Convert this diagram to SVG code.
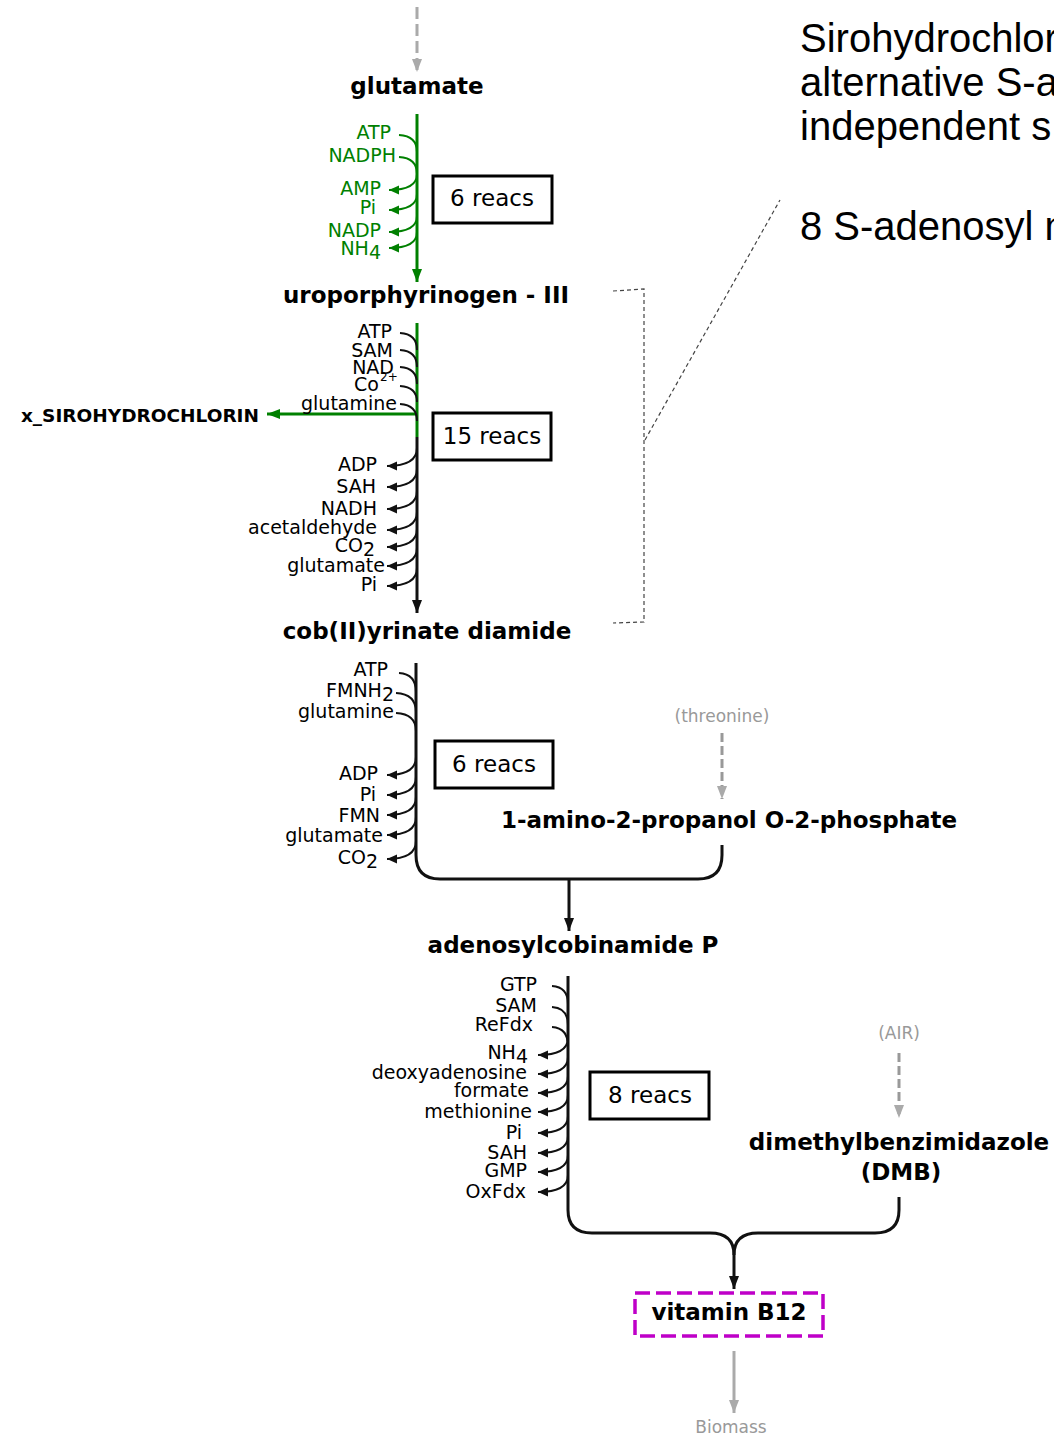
<svg xmlns="http://www.w3.org/2000/svg" width="1054" height="1436" viewBox="0 0 1054 1436">
<style>
text{font-family:"DejaVu Sans","Noto Sans",sans-serif}
.met{font-weight:bold;font-size:23px;text-anchor:middle;fill:#000}
.sm{font-size:19px;text-anchor:end;fill:#000}
.g{fill:#008000}
.gray{font-size:17px;text-anchor:middle;fill:#999}
.box{fill:#fff;stroke:#000;stroke-width:3}
.rt{font-size:23px;text-anchor:middle;fill:#000}
.note{font-family:"Liberation Sans",Arial,sans-serif;font-size:40px;fill:#000}
.ln{fill:none;stroke:#111;stroke-width:3}
.gl{fill:none;stroke:#008000;stroke-width:3}
.sd{fill:none;stroke:#111;stroke-width:2}
.sdg{fill:none;stroke:#008000;stroke-width:2}
.dsh{fill:none;stroke:#aaa;stroke-width:3;stroke-dasharray:12,5}
.br{fill:none;stroke:#444;stroke-width:1.2;stroke-dasharray:4,3}
</style>
<defs>
<marker id="aB" markerUnits="userSpaceOnUse" markerWidth="14" markerHeight="12" refX="13" refY="5" orient="auto"><path d="M0,0 L13,5 L0,10 z" fill="#111"/></marker>
<marker id="aG" markerUnits="userSpaceOnUse" markerWidth="14" markerHeight="12" refX="13" refY="5" orient="auto"><path d="M0,0 L13,5 L0,10 z" fill="#008000"/></marker>
<marker id="aY" markerUnits="userSpaceOnUse" markerWidth="14" markerHeight="12" refX="13" refY="5" orient="auto"><path d="M0,0 L13,5 L0,10 z" fill="#aaa"/></marker>
<marker id="sB" markerUnits="userSpaceOnUse" markerWidth="12" markerHeight="10" refX="10" refY="4.5" orient="auto"><path d="M0,0 L10,4.5 L0,9 z" fill="#111"/></marker>
<marker id="sG" markerUnits="userSpaceOnUse" markerWidth="12" markerHeight="10" refX="10" refY="4.5" orient="auto"><path d="M0,0 L10,4.5 L0,9 z" fill="#008000"/></marker>
</defs>
<rect width="1054" height="1436" fill="#fff"/>

<g id="connectors">
<path class="dsh" d="M417,7 L417,72" marker-end="url(#aY)"/>
<path class="gl" d="M417,114 L417,282" marker-end="url(#aG)"/>
<path class="sdg" d="M399,135 Q417,136 417,152"/>
<path class="sdg" d="M399,157 Q417,158 417,174"/>
<path class="sdg" d="M417,174 Q417,190 389,190" marker-end="url(#sG)"/>
<path class="sdg" d="M417,194 Q417,210 389,210" marker-end="url(#sG)"/>
<path class="sdg" d="M417,216 Q417,232 389,232" marker-end="url(#sG)"/>
<path class="sdg" d="M417,232 Q417,248 389,248" marker-end="url(#sG)"/>
<path class="gl" d="M417,323 L417,437"/>
<path class="ln" d="M417,437 L417,613" marker-end="url(#aB)"/>
<path class="gl" d="M417,414 L267,414" marker-end="url(#aG)"/>
<path class="sd" d="M400,333 Q417,334 417,350"/>
<path class="sd" d="M400,350 Q417,351 417,367"/>
<path class="sd" d="M400,367 Q417,368 417,384"/>
<path class="sd" d="M400,386 Q417,387 417,402"/>
<path class="sd" d="M400,404 Q417,405 417,421"/>
<path class="sd" d="M417,448 Q417,466 387,466" marker-end="url(#sB)"/>
<path class="sd" d="M417,469 Q417,487 387,487" marker-end="url(#sB)"/>
<path class="sd" d="M417,491 Q417,509 387,509" marker-end="url(#sB)"/>
<path class="sd" d="M417,512 Q417,530 387,530" marker-end="url(#sB)"/>
<path class="sd" d="M417,529 Q417,547 387,547" marker-end="url(#sB)"/>
<path class="sd" d="M417,548 Q417,566 387,566" marker-end="url(#sB)"/>
<path class="sd" d="M417,568 Q417,586 387,586" marker-end="url(#sB)"/>
<path class="ln" d="M416,663 L416,855 Q416,879 440,879 L698,879 Q722,879 722,855 L722,845"/>
<path class="ln" d="M569,879 L569,931" marker-end="url(#aB)"/>
<path class="sd" d="M399,673 Q416,674 416,692"/>
<path class="sd" d="M396,693 Q416,694 416,712"/>
<path class="sd" d="M396,713 Q416,714 416,731"/>
<path class="sd" d="M416,757 Q416,775 387,775" marker-end="url(#sB)"/>
<path class="sd" d="M416,777 Q416,795 387,795" marker-end="url(#sB)"/>
<path class="sd" d="M416,797 Q416,815 387,815" marker-end="url(#sB)"/>
<path class="sd" d="M416,817 Q416,835 387,835" marker-end="url(#sB)"/>
<path class="sd" d="M416,841 Q416,859 387,859" marker-end="url(#sB)"/>
<path class="dsh" style="stroke:#999;stroke-dasharray:9,4" d="M722,733 L722,799" marker-end="url(#aY)"/>
<path class="ln" d="M568,976 L568,1210 Q568,1233 592,1233 L710,1233 Q734,1233 734,1255"/>
<path class="ln" d="M899,1197 L899,1210 Q899,1233 875,1233 L758,1233 Q734,1233 734,1255"/>
<path class="ln" d="M734,1255 L734,1289" marker-end="url(#aB)"/>
<path class="sd" d="M552,986 Q568,987 568,1004"/>
<path class="sd" d="M552,1007 Q568,1008 568,1025"/>
<path class="sd" d="M552,1027 Q568,1028 568,1046"/>
<path class="sd" d="M568,1038 Q568,1055 538,1055" marker-end="url(#sB)"/>
<path class="sd" d="M568,1057 Q568,1074 538,1074" marker-end="url(#sB)"/>
<path class="sd" d="M568,1076 Q568,1093 538,1093" marker-end="url(#sB)"/>
<path class="sd" d="M568,1095 Q568,1112 538,1112" marker-end="url(#sB)"/>
<path class="sd" d="M568,1116 Q568,1133 538,1133" marker-end="url(#sB)"/>
<path class="sd" d="M568,1136 Q568,1153 538,1153" marker-end="url(#sB)"/>
<path class="sd" d="M568,1155 Q568,1172 538,1172" marker-end="url(#sB)"/>
<path class="sd" d="M568,1175 Q568,1192 538,1192" marker-end="url(#sB)"/>
<path class="dsh" style="stroke:#999;stroke-dasharray:9,4" d="M899,1053 L899,1118" marker-end="url(#aY)"/>
<path class="ln" style="stroke:#aaa" d="M734,1351 L734,1413" marker-end="url(#aY)"/>
<path class="br" d="M613,291 L644,289 L644,622 L613,623"/>
<path class="br" d="M645,440 L780,200"/>
</g>

<g id="glutamate"><text class="met" x="417" y="94">glutamate</text></g>
<g id="side1">
<text class="sm g" x="391" y="139">ATP</text>
<text class="sm g" x="396" y="162">NADPH</text>
<text class="sm g" x="381" y="195">AMP</text>
<text class="sm g" x="376" y="214">Pi</text>
<text class="sm g" x="381" y="237">NADP</text>
<text class="sm g" x="381" y="255">NH<tspan dy="4">4</tspan></text>
</g>
<g id="r1"><rect class="box" x="433" y="176" width="119" height="47"/><text class="rt" x="492" y="206">6 reacs</text></g>
<g id="uro"><text class="met" x="426" y="303">uroporphyrinogen - III</text></g>

<g id="side2">
<text class="sm" x="392" y="338">ATP</text>
<text class="sm" x="393" y="357">SAM</text>
<text class="sm" x="394" y="374">NAD</text>
<text class="sm" x="379" y="391">Co</text>
<text x="380" y="381" style="font-size:12px;fill:#000">2+</text>
<text class="sm" x="397" y="410">glutamine</text>
<text class="sm" x="377" y="471">ADP</text>
<text class="sm" x="376" y="493">SAH</text>
<text class="sm" x="377" y="515">NADH</text>
<text class="sm" x="377" y="534">acetaldehyde</text>
<text class="sm" x="375" y="552">CO<tspan dy="4">2</tspan></text>
<text class="sm" x="385" y="572">glutamate</text>
<text class="sm" x="377" y="591">Pi</text>
</g>
<g id="siro"><text class="met" style="font-size:18.5px;text-anchor:end" x="259" y="422">x_SIROHYDROCHLORIN</text></g>
<g id="r2"><rect class="box" x="433" y="413" width="118" height="47"/><text class="rt" x="492" y="444">15 reacs</text></g>
<g id="cob"><text class="met" x="427" y="639">cob(II)yrinate diamide</text></g>

<g id="side3">
<text class="sm" x="388" y="676">ATP</text>
<text class="sm" x="394" y="697">FMNH<tspan dy="4">2</tspan></text>
<text class="sm" x="394" y="718">glutamine</text>
<text class="sm" x="378" y="780">ADP</text>
<text class="sm" x="376" y="801">Pi</text>
<text class="sm" x="380" y="822">FMN</text>
<text class="sm" x="383" y="842">glutamate</text>
<text class="sm" x="378" y="864">CO<tspan dy="4">2</tspan></text>
</g>
<g id="r3"><rect class="box" x="435" y="741" width="118" height="47"/><text class="rt" x="494" y="772">6 reacs</text></g>
<g id="threonine"><text class="gray" x="722" y="722">(threonine)</text></g>
<g id="amino"><text class="met" x="729" y="828">1-amino-2-propanol O-2-phosphate</text></g>
<g id="adocbi"><text class="met" x="573" y="953">adenosylcobinamide P</text></g>

<g id="side4">
<text class="sm" x="537" y="991">GTP</text>
<text class="sm" x="537" y="1012">SAM</text>
<text class="sm" x="533" y="1031">ReFdx</text>
<text class="sm" x="528" y="1059">NH<tspan dy="4">4</tspan></text>
<text class="sm" x="527" y="1079">deoxyadenosine</text>
<text class="sm" x="529" y="1097">formate</text>
<text class="sm" x="532" y="1118">methionine</text>
<text class="sm" x="522" y="1139">Pi</text>
<text class="sm" x="527" y="1159">SAH</text>
<text class="sm" x="527" y="1177">GMP</text>
<text class="sm" x="526" y="1198">OxFdx</text>
</g>
<g id="r4"><rect class="box" x="590" y="1072" width="119" height="47"/><text class="rt" x="650" y="1103">8 reacs</text></g>
<g id="air"><text class="gray" x="899" y="1039">(AIR)</text></g>
<g id="dmb"><text class="met" x="899" y="1150">dimethylbenzimidazole</text><text class="met" x="901" y="1180">(DMB)</text></g>
<g id="b12"><rect x="635" y="1293" width="188" height="43" fill="#fff" stroke="#bf00c8" stroke-width="3.5" stroke-dasharray="15,6"/><text class="met" x="729" y="1320">vitamin B12</text></g>
<g id="biomass"><text class="gray" x="731" y="1433">Biomass</text></g>

<g id="note">
<text class="note" x="800" y="52">Sirohydrochlor</text>
<text class="note" x="800" y="96">alternative S-a</text>
<text class="note" x="800" y="140">independent s</text>
<text class="note" x="800" y="240">8 S-adenosyl m</text>
</g>
</svg>
